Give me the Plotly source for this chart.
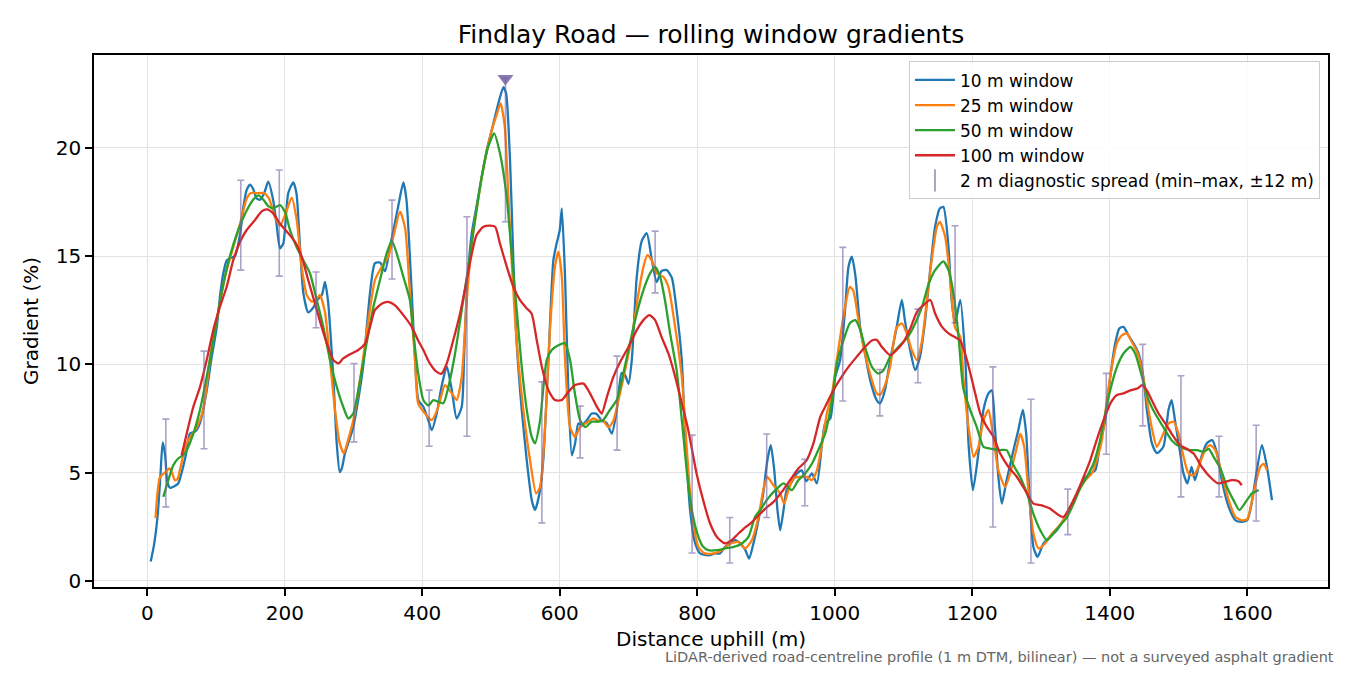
import plotly.graph_objects as go

# distance (m) / gradient (%), one pair of lists per window
w10_d = [5, 10, 15, 19, 22.4, 26, 29, 33, 38, 45, 50, 56, 62, 70, 76.7, 86, 93, 101, 106, 110.6,
         115.5, 121, 127.6, 135, 140, 144.6, 149.4, 154, 159, 164, 170, 176, 183, 188, 193, 198,
         205, 212.4, 217, 222, 227, 234, 241, 248, 254, 258.5, 263, 267, 270.6, 275.6, 280, 283,
         287.6, 299.7, 306, 314, 324, 331, 338.6, 345.8, 353, 360, 365, 372.5, 377, 384.7, 389.5,
         394.4, 401.6, 409, 413.8, 421, 428, 435.6, 443, 450, 457.4, 461, 464.7, 472, 479, 486.5,
         493.8, 501, 510.7, 518, 522, 527.7, 532.5, 537.4, 544.7, 552, 559.3, 564, 571.4, 576,
         583.5, 590.7, 595.6, 600, 603, 607.7, 612.6, 617.5, 622.3, 627, 632, 639, 646.6, 654, 661,
         668, 675.7, 683, 690, 695, 700, 704.8, 712, 719.3, 726.6, 734, 741, 748, 755.7, 763, 770,
         777.5, 782, 789.6, 797, 804, 811, 818.7, 826, 833, 840.5, 848, 855, 862.6, 870, 875.5,
         881.7, 889, 896, 902, 907, 912, 916.7, 920.6, 925.5, 930, 937.6, 945, 952, 958.6, 966.8,
         974, 981.5, 986, 993.6, 1000.6, 1007.8, 1015, 1020, 1024.9, 1030, 1037, 1044, 1051.5,
         1061, 1066, 1073, 1080.6, 1090, 1097.6, 1102, 1109.7, 1117, 1124, 1131.5, 1138.8, 1146,
         1153, 1158, 1165.5, 1170, 1175, 1182.6, 1190, 1194.6, 1201, 1209, 1216.4, 1223.6, 1228.5,
         1233, 1238, 1243, 1250, 1260, 1267, 1273.6, 1278.5, 1283, 1289, 1295, 1303.6, 1313, 1323,
         1332.7, 1342.5, 1352, 1362, 1371.6, 1379, 1386, 1393.5, 1400.7, 1408, 1414, 1420, 1427,
         1434.6, 1442, 1449, 1454, 1461.4, 1468.6, 1478, 1485.5, 1490, 1495, 1502, 1507, 1513,
         1519, 1524, 1531.7, 1541, 1549, 1556, 1563, 1573, 1583, 1592.4, 1600, 1606, 1611.7,
         1621.4, 1628.7, 1636]
w10_g = [0.9, 1.7, 3.0, 4.8, 6.4, 5.8, 4.6, 4.3, 4.35, 4.5, 5.0, 5.8, 6.8, 6.9, 7.3, 8.7, 10.2, 11.7,
         13.2, 14.2, 14.8, 14.9, 15.0, 16.0, 17.3, 18.05, 18.3, 18.1, 17.66, 17.6, 17.9, 18.43, 17.6,
         16.5, 15.35, 15.6, 17.9, 18.4, 17.9, 15.5, 13.3, 12.4, 12.6, 13.0, 13.2, 13.8, 12.9, 11.2,
         9.4, 6.35, 5.03, 5.2, 5.9, 7.1, 8.2, 9.9, 13.3, 14.66, 14.7, 14.3, 15.4, 16.5, 17.3, 18.4,
         17.6, 13.3, 10.2, 8.35, 8.04, 7.4, 6.96, 7.73, 8.96, 9.9, 8.8, 7.5, 8.04, 10.5, 13.3, 16.05,
         17.3, 18.66, 19.9, 20.8, 22.05, 22.8, 22.5, 19.4, 14.8, 10.97, 7.9, 5.57, 3.73, 3.27, 4.19,
         5.57, 10.2, 14.8, 15.6, 16.2, 17.2, 14.04, 8.66, 5.8, 6.35, 7.27, 7.2, 7.4, 7.73, 7.7, 7.4,
         7.3, 6.8, 7.9, 9.6, 9.5, 9.1, 10.2, 14.04, 15.7, 16.05, 14.8, 13.8, 14.3, 14.35, 14.0, 12.5,
         10.2, 7.0, 3.27, 1.73, 1.27, 1.2, 1.19, 1.27, 1.27, 1.57, 1.73, 1.88, 1.73, 1.42, 1.03,
         1.73, 2.8, 4.04, 5.57, 6.27, 5.11, 3.27, 2.34, 3.27, 4.19, 4.57, 4.96, 5.1, 4.6, 4.96,
         4.5, 6.35, 7.27, 7.5, 9.4, 10.2, 12.5, 14.5, 14.97, 14.1, 11.7, 10.5, 9.27,
         8.35, 8.2, 8.8, 10.2, 11.7, 12.97, 12.04, 10.66, 9.73, 10.35, 12.04, 14.35, 16.35,
         17.2, 17.27, 15.4, 12.97, 11.9, 12.97, 10.2, 6.35, 4.19, 5.9, 7.9, 8.66, 8.8,
         7.1, 4.8, 3.57, 4.65, 6.04, 6.96, 7.9, 6.8, 4.04, 1.57, 1.11, 1.73, 2.03, 2.34,
         2.8, 3.42, 4.04, 4.65, 4.96, 5.1, 6.35, 7.42, 9.4, 10.97, 11.66, 11.73, 11.35,
         10.97, 10.5, 9.4, 7.9, 6.35, 5.9, 6.19, 7.9, 8.35, 7.4, 6.0, 5.0, 4.5,
         5.26, 4.65, 5.57, 6.35, 6.5, 5.9, 4.65, 3.42, 2.8, 2.73, 2.8, 3.5, 4.65,
         6.27, 5.27, 3.73]

w25_d = [12, 18.5, 25.8, 32, 36, 40, 44, 48, 57, 72, 81.5, 91, 101, 113, 125, 135, 144.6, 150, 160,
         170, 177, 185.8, 193, 202.8, 210, 217.4, 224.6, 232, 239, 246, 251, 258.5, 265.8, 273, 280,
         286, 292, 299.7, 309.5, 321.6, 331.3, 341, 350.6, 358, 367.7, 375, 382, 389.5, 394, 404,
         413.8, 423.4, 433, 443, 450, 457.4, 464.7, 472, 481.6, 491, 501, 509, 514, 520, 525, 530,
         537.4, 547, 556.8, 565.6, 571.4, 578.6, 586, 593, 598, 603, 607.7, 615, 622.3, 629.6, 639,
         648.8, 656, 663, 671, 678, 685.4, 695, 704.8, 714.5, 721.7, 727.5, 734, 741, 750.4, 758,
         767.8, 777.5, 785, 792, 801.7, 811, 823.7, 836, 848, 860, 869.6, 879.4, 889, 896, 902,
         910.8, 920.6, 926.4, 932.6, 940, 949.5, 959, 966.7, 974, 981.5, 988.5, 996, 1003, 1012.6,
         1022, 1027, 1034.5, 1044, 1054, 1061, 1066, 1073, 1080.6, 1090, 1097.6, 1105, 1112,
         1119.6, 1127, 1134, 1141, 1148.6, 1153, 1160.6, 1168, 1175, 1182.6, 1187, 1194.6, 1202,
         1209, 1216.4, 1223.6, 1228.5, 1238, 1248, 1257.7, 1265, 1269.8, 1275.6, 1282, 1289,
         1296.4, 1306, 1316, 1325, 1335, 1345, 1355, 1364.5, 1374, 1381, 1388.6, 1395.8, 1403,
         1410.5, 1418, 1425, 1432, 1439.6, 1446.9, 1454, 1461, 1468.6, 1478, 1485.5, 1493, 1500,
         1507.4, 1514.6, 1522, 1529, 1538.8, 1546, 1553.5, 1563, 1573, 1583, 1592, 1600, 1609,
         1619, 1624, 1628.7]
w25_g = [2.9, 4.8, 5.0, 5.19, 5.0, 4.65, 4.7, 5.2, 6.35, 7.1, 7.9, 10.2, 12.04, 14.04, 15.4, 16.5,
         17.66, 17.9, 17.9, 17.9, 17.66, 16.8, 16.4, 17.1, 17.7, 16.66, 14.5, 13.2, 12.9, 13.0, 13.2,
         12.4, 10.2, 7.9, 6.35, 5.9, 6.5, 7.42, 9.27, 12.04, 13.9, 14.5, 14.97, 15.9, 17.05, 16.3,
         13.3, 10.2, 8.2, 7.73, 7.42, 8.04, 9.04, 8.66, 8.35, 9.42, 12.97, 15.58, 17.66, 19.4, 20.8,
         21.6, 22.05, 20.97, 17.9, 14.8, 11.0, 7.9, 5.57, 4.04, 4.34, 7.1, 11.73, 14.5, 15.2, 14.04,
         10.2, 7.1, 6.65, 7.1, 7.3, 7.5, 7.4, 7.4, 7.1, 7.4, 8.35, 9.73, 11.27, 13.27, 14.5, 15.04,
         14.8, 14.2, 14.04, 13.58, 11.73, 9.42, 6.0, 3.2, 1.57, 1.27, 1.27, 1.42, 1.73, 1.8, 1.5,
         1.88, 2.95, 4.19, 4.8, 4.42, 4.04, 3.57, 4.19, 4.73, 4.8, 4.8, 4.65, 5.1, 6.35, 7.73, 8.66,
         10.2, 12.2, 13.58, 13.4, 12.04, 10.5, 9.27, 8.66, 8.6, 9.04, 9.9, 11.7, 11.89, 11.4, 10.66,
         10.2, 11.1, 12.97, 14.8, 16.35, 16.58, 15.9, 13.9, 11.7, 11.27, 9.42, 7.1, 5.73, 6.19,
         7.42, 7.9, 7.1, 5.11, 4.34, 5.26, 6.19, 6.8, 6.19, 4.04, 2.19, 1.5, 1.73, 2.19, 2.49, 2.95,
         3.57, 4.19, 4.65, 4.96, 5.57, 6.5, 8.35, 9.88, 10.97, 11.35, 11.43, 11.04, 10.58, 9.73,
         8.35, 7.1, 6.19, 6.8, 7.27, 7.35, 6.8, 5.73, 4.96, 4.88, 5.26, 6.04, 6.27, 6.04, 4.96,
         3.73, 2.95, 2.8, 2.85, 4.04, 5.27, 5.4, 5.11]

w50_d = [23.3, 30.6, 37.8, 45, 54.8, 67, 76.7, 86.4, 96, 108, 120, 132.4, 144.6, 154, 161.5, 169,
         176, 183, 193, 200.7, 207.6, 217.4, 227, 236.7, 246.5, 256, 265.8, 275.6, 285, 292.5,
         299.7, 309.5, 319, 329, 338.6, 348, 355.6, 363, 372.5, 382, 387, 394, 401.6, 409, 416,
         423.4, 430.7, 438, 447.7, 457.4, 467, 476.8, 486.5, 496, 504.4, 513, 523, 530, 537.4,
         544.7, 552, 559.3, 564, 571.4, 581, 588.4, 598, 607.7, 615, 622, 629.6, 637, 646.6, 656,
         663, 673, 683, 692.6, 702, 712, 721.7, 731.4, 738.7, 746, 753, 760.5, 770, 778, 785, 792,
         800, 808, 816, 828.6, 840.5, 853, 865, 874.5, 884, 891.5, 901, 913.6, 925.5, 937.6, 947,
         957, 967, 976, 986, 996, 1003, 1012.6, 1022, 1030, 1037, 1044, 1054, 1063.5, 1071,
         1080.6, 1092.5, 1105, 1117, 1127, 1136.5, 1146, 1158, 1166, 1173, 1180, 1187, 1197,
         1206.6, 1216.4, 1228.5, 1240.6, 1250, 1260, 1269.8, 1279.5, 1289, 1299, 1308.6, 1318,
         1328, 1338, 1347.5, 1357, 1366.6, 1376.5, 1386, 1393.5, 1400.7, 1410.5, 1420, 1430, 1437,
         1447, 1456.5, 1466, 1478, 1490, 1502, 1517, 1527, 1536.5, 1544, 1551, 1561, 1570.5, 1580,
         1588.5, 1599.6, 1606.9, 1616.6]
w50_g = [3.88, 4.65, 5.34, 5.65, 5.88, 6.8, 7.9, 9.42, 11.1, 13.27, 14.97, 16.2, 17.1, 17.6, 17.8,
         17.6, 17.3, 17.2, 17.35, 17.0, 16.2, 15.4, 14.8, 14.2, 12.97, 11.73, 10.2, 8.96, 8.04, 7.5,
         7.73, 9.27, 10.97, 12.66, 13.9, 15.1, 15.7, 15.1, 14.04, 12.97, 11.43, 9.6, 8.35, 8.1, 8.35,
         8.27, 8.2, 8.96, 10.5, 12.5, 14.5, 16.66, 18.66, 20.05, 20.66, 19.74, 17.66, 15.12, 12.5,
         9.88, 7.9, 6.65, 6.35, 7.42, 10.2, 10.66, 10.88, 10.97, 10.2, 8.66, 7.42, 7.1, 7.35, 7.35,
         7.42, 7.9, 8.35, 9.6, 10.97, 12.35, 13.43, 14.2, 14.5, 14.04, 12.97, 11.43, 9.73, 7.3, 5.0,
         3.3, 2.2, 1.6, 1.42, 1.42, 1.5, 1.57, 1.73, 2.03, 2.95, 3.27, 3.73, 4.19, 4.5, 4.19, 4.65,
         4.96, 5.42, 6.04, 6.8, 8.35, 10.04, 11.1, 11.9, 12.04, 11.6, 10.8, 9.88, 9.57, 9.73, 10.35,
         10.8, 11.2, 11.89, 12.66, 13.7, 14.35, 14.75, 14.3, 13.2, 11.3, 8.9, 7.9, 7.1, 6.19, 6.1,
         6.04, 6.04, 5.34, 4.8, 4.04, 3.1, 2.34, 1.88, 2.19, 2.57, 2.95, 3.57, 4.27, 4.8, 5.42, 6.5,
         7.73, 8.8, 9.88, 10.5, 10.8, 10.5, 9.42, 8.35, 7.73, 7.1, 6.5, 6.19, 6.04, 6.04, 5.96, 6.1,
         5.73, 5.19, 4.34, 3.73, 3.27, 3.73, 4.04, 4.19]

w100_d = [50, 57.3, 67, 76.7, 86.4, 96, 105.8, 115.5, 125, 135, 144.6, 156.7, 166, 174, 183, 193, 205,
          214.7, 224.6, 234, 244, 253.6, 263, 270.6, 278, 285, 295, 307, 317, 324, 331, 341, 350.6,
          360, 372.5, 384.7, 394, 401.6, 411, 421, 428, 435.6, 445, 455, 464.7, 472, 479, 489, 498.6,
          506, 513, 523, 532.5, 542, 552, 559, 566.6, 574, 583.5, 593, 603, 612.6, 622, 634.6, 644,
          654, 661, 668.6, 678, 688, 700, 712, 721.7, 730.5, 738.7, 748, 758, 768, 777.5, 787, 799,
          808.6, 818.7, 828.6, 840.5, 850, 860, 867.7, 877, 887, 899, 911, 923, 935, 947, 959, 969,
          979, 988.5, 998, 1010, 1020, 1032, 1044, 1054, 1061, 1068.6, 1080.6, 1090, 1100, 1110,
          1119.6, 1129, 1139, 1146, 1156, 1165.5, 1177.6, 1182.6, 1192.3, 1202, 1211.7, 1221.4, 1231,
          1240.6, 1252.8, 1265, 1277, 1289, 1301, 1313, 1323, 1332.6, 1342.5, 1352, 1362, 1371.6,
          1381, 1391, 1401, 1410.5, 1420, 1430, 1440, 1447, 1454, 1461, 1471, 1480.8, 1490, 1502,
          1512, 1522, 1534, 1546, 1558, 1568, 1578, 1587, 1592]
w100_g = [5.8, 6.8, 8.04, 8.96, 10.2, 11.58, 12.66, 13.58, 14.8, 15.66, 16.2, 16.66, 17.05, 17.15,
          16.97, 16.5, 16.05, 15.66, 14.97, 13.9, 12.8, 11.73, 10.8, 10.2, 10.04, 10.27, 10.47, 10.66,
          10.97, 11.73, 12.5, 12.8, 12.88, 12.73, 12.27, 11.73, 11.1, 10.66, 10.04, 9.65, 9.57, 10.04,
          11.1, 12.35, 13.88, 15.1, 15.97, 16.35, 16.4, 16.35, 15.58, 14.5, 13.58, 12.97, 12.58,
          12.35, 11.1, 9.88, 8.8, 8.35, 8.35, 8.73, 9.04, 9.11, 8.66, 8.04, 7.73, 8.5, 9.42, 10.12,
          10.8, 11.58, 12.04, 12.27, 12.04, 11.27, 10.5, 9.42, 8.2, 6.96, 4.96, 3.73, 2.65, 2.03,
          1.73, 1.88, 2.19, 2.42, 2.65, 2.95, 3.34, 3.65, 4.11, 4.65, 5.19, 5.57, 6.35, 7.58, 8.2,
          8.8, 9.42, 9.88, 10.35, 10.8, 11.1, 11.13, 10.8, 10.42, 10.66, 11.04, 11.66, 12.42, 12.73,
          12.97, 12.35, 11.73, 11.43, 11.2, 11.1, 10.2, 8.96, 7.73, 7.1, 6.65, 5.88, 5.26, 4.8, 4.19,
          3.57, 3.49, 3.34, 3.1, 2.95, 3.42, 4.04, 4.8, 5.57, 6.5, 7.42, 8.2, 8.58, 8.66, 8.8, 8.88,
          9.04, 8.8, 8.35, 7.73, 7.27, 6.8, 6.27, 6.1, 5.88, 5.26, 4.8, 4.5, 4.57, 4.65, 4.6, 4.42]

# 2 m diagnostic spread: centre distance, min and max gradient within +/-12 m
spread_d = [27, 82.5, 136, 192, 245.5, 300.7, 356, 410, 465, 521, 574, 629.6, 683.4, 738.7, 792.5,
            847.3, 901, 956.5, 1011.7, 1065.6, 1121, 1175, 1230, 1285.4, 1339, 1395, 1448, 1503.6,
            1559, 1613]
spread_lo = [3.42, 6.1, 14.35, 14.07, 11.69, 6.42, 13.94, 6.22, 6.68, 16.58, 2.68, 5.68, 6.04, 13.3,
             1.29, 0.83, 2.93, 3.47, 8.31, 7.62, 9.15, 11.92, 2.49, 0.83, 2.14, 5.85, 7.16, 3.88,
             3.88, 2.77]
spread_hi = [7.47, 10.61, 18.5, 18.97, 14.26, 10.04, 17.58, 8.81, 16.81, 23.2, 9.19, 8.07, 10.38,
             16.15, 6.73, 2.93, 6.78, 5.61, 15.4, 9.76, 12.55, 16.4, 9.88, 8.39, 4.24, 9.58, 10.92,
             9.47, 6.68, 7.19]

FONT = "DejaVu Sans"
spread_col = "rgba(118,98,163,0.6)"

fig = go.Figure()

for d, g, name, col in [(w10_d, w10_g, "10 m window", "#1f77b4"),
                        (w25_d, w25_g, "25 m window", "#ff7f0e"),
                        (w50_d, w50_g, "50 m window", "#2ca02c"),
                        (w100_d, w100_g, "100 m window", "#d62728")]:
    fig.add_trace(go.Scatter(x=d, y=g, mode="lines", name=name,
                             line=dict(color=col, width=2.3, shape="spline", smoothing=0.6)))

spread_len = [h - l for h, l in zip(spread_hi, spread_lo)]
fig.add_trace(go.Scatter(
    x=spread_d, y=spread_lo, mode="markers", showlegend=False, hoverinfo="skip",
    marker=dict(size=1, color="rgba(0,0,0,0)"),
    error_y=dict(type="data", symmetric=False, array=spread_len,
                 arrayminus=[0] * len(spread_d), color=spread_col, thickness=1.6, width=3.5),
))
# legend entry for the spread bars
fig.add_trace(go.Scatter(
    x=[None], y=[None], mode="markers", name="2 m diagnostic spread (min–max, ±12 m)",
    marker=dict(symbol="line-ns-open", size=16, color=spread_col, line=dict(color=spread_col, width=2)),
))

# steepest 2 m reading
i_max = spread_hi.index(max(spread_hi))
fig.add_trace(go.Scatter(
    x=[spread_d[i_max]], y=[spread_hi[i_max]], mode="markers", showlegend=False,
    marker=dict(symbol="triangle-down", size=14, color="rgba(118,98,163,0.85)", line=dict(width=0)),
))

axis_common = dict(showline=True, linecolor="black", linewidth=1.6, mirror=True,
                   ticks="outside", ticklen=7, tickwidth=1.6, tickcolor="black",
                   showgrid=True, gridcolor="#e2e2e2", gridwidth=1, zeroline=False,
                   tickfont=dict(family=FONT, size=20, color="black"))

fig.update_xaxes(range=[-77.5, 1717.5], tickvals=list(range(0, 1601, 200)),
                 title=dict(text="Distance uphill (m)", font=dict(family=FONT, size=20, color="black"),
                            standoff=8),
                 **axis_common)
fig.update_yaxes(range=[-0.28, 24.28], tickvals=[0, 5, 10, 15, 20],
                 title=dict(text="Gradient (%)", font=dict(family=FONT, size=20, color="black"),
                            standoff=12),
                 **axis_common)

# page body adds an 8 px margin, so the figure is 16 px smaller than the window
W, H = 1334, 659
fig.update_layout(
    width=W, height=H,
    margin=dict(l=86, r=14, t=47, b=80),
    paper_bgcolor="white", plot_bgcolor="white",
    font=dict(family=FONT, color="black"),
    title=dict(text="Findlay Road — rolling window gradients", x=(86 + 1320) / 2 / W,
               xanchor="center", y=1 - 26 / H, yanchor="middle", yref="container",
               font=dict(family=FONT, size=25, color="black")),
    legend=dict(x=0.9935, y=0.988, xanchor="right", yanchor="top",
                bgcolor="rgba(255,255,255,0.85)", bordercolor="#cccccc", borderwidth=1,
                font=dict(family=FONT, size=17, color="black"), tracegroupgap=0,
                itemwidth=40),
    showlegend=True,
)

fig.add_annotation(text="LiDAR-derived road-centreline profile (1 m DTM, bilinear) — not a surveyed asphalt gradient",
                   xref="paper", yref="paper", x=1, y=0, xanchor="right", yanchor="middle",
                   xshift=8, yshift=-70, showarrow=False,
                   font=dict(family=FONT, size=14.5, color="#666666"))

fig.write_html("out.html")
